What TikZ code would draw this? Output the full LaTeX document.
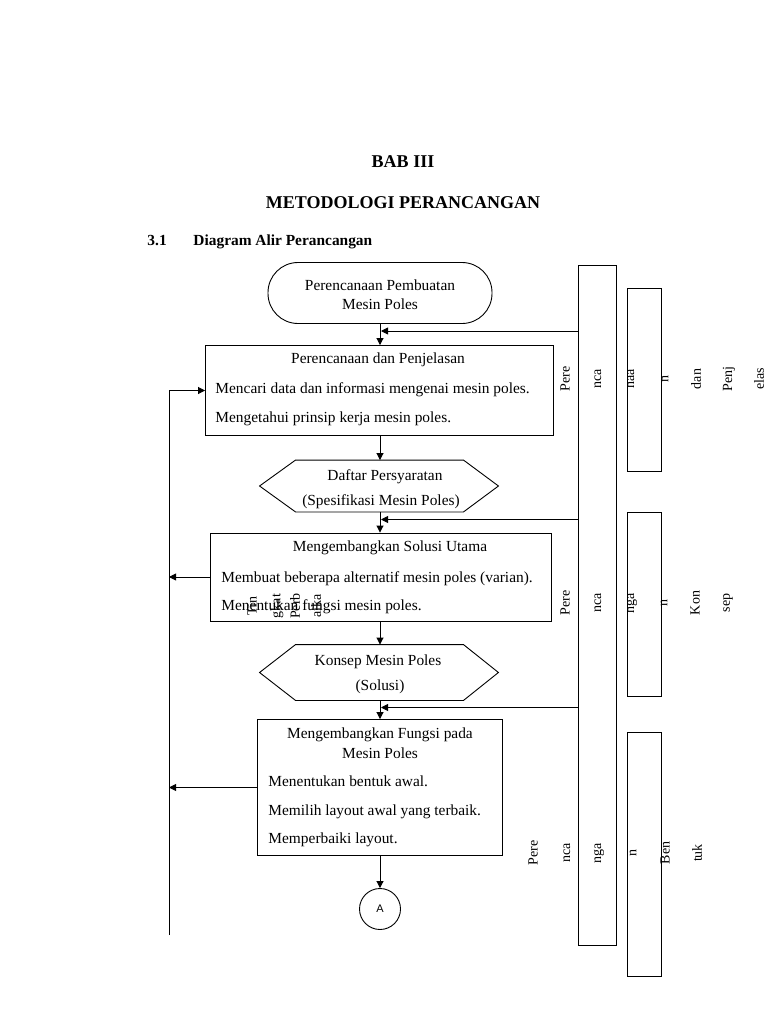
\documentclass[tikz,border=0pt]{standalone}
\usepackage{fontspec}
\setmainfont{Liberation Serif}
\newfontfamily\sansA{Liberation Sans}
\usetikzlibrary{arrows.meta,calc}
\begin{document}
\begin{tikzpicture}[x=1pt,y=-1pt,
  line width=0.9pt,
  arr/.style={-{Triangle[length=7pt,width=7pt]}},
  body/.style={font=\fontsize{15.4}{18}\selectfont, inner sep=0pt},
  boxstyle/.style={draw, rectangle, inner sep=0pt},
  rot/.style={font=\fontsize{14}{16}\selectfont, rotate=90, inner sep=0pt, anchor=center},
  hdr/.style={font=\fontsize{18}{22}\selectfont\bfseries, inner sep=0pt},
  sub/.style={font=\fontsize{15.4}{18}\selectfont\bfseries, inner sep=0pt},
]
\fill[white] (0,0) rectangle (768,1024);
\useasboundingbox (0,0) rectangle (768,1024);

% headings
\node[hdr, anchor=base] (bab) at (403,168) {BAB III};
\node[hdr, anchor=base] (metod) at (403,209) {METODOLOGI PERANCANGAN};
\node[sub, anchor=base west] (secnum) at (147,245) {3.1};
\node[sub, anchor=base west] (sectitle) at (193,245) {Diagram Alir Perancangan};

\coordinate (axis) at (380,0);

% terminal
\node[boxstyle, rounded corners=30pt, minimum width=224pt, minimum height=61pt] (start) at (380,293) {};
\node[body, anchor=base] (startA) at (380,290) {Perencanaan Pembuatan};
\node[body, anchor=base] (startB) at (380,309) {Mesin Poles};

% box 1
\node[boxstyle, minimum width=348pt, minimum height=90pt] (box1) at (379.5,390.5) {};
\node[body, anchor=base] (b1t) at (378,363) {Perencanaan dan Penjelasan};
\node[body, anchor=base west] (b1a) at (215,393) {Mencari data dan informasi mengenai mesin poles.};
\node[body, anchor=base west] (b1b) at (215,422) {Mengetahui prinsip kerja mesin poles.};

% hexagon 1
\node[minimum width=238pt, minimum height=51pt, inner sep=0pt] (hex1) at (379,486) {};
\draw (hex1.west) -- ([xshift=36pt]hex1.north west) -- ([xshift=-35pt]hex1.north east) -- (hex1.east)
      -- ([xshift=-35pt]hex1.south east) -- ([xshift=36pt]hex1.south west) -- cycle;
\node[body, anchor=base] (h1a) at (385,480) {Daftar Persyaratan};
\node[body, anchor=base] (h1b) at (381,505) {(Spesifikasi Mesin Poles)};

% box 2
\node[boxstyle, minimum width=341pt, minimum height=88pt] (box2) at (381,577) {};
\node[body, anchor=base] (b2t) at (390,551) {Mengembangkan Solusi Utama};
\node[body, anchor=base west] (b2a) at (221,582) {Membuat beberapa alternatif mesin poles (varian).};
\node[body, anchor=base west] (b2b) at (221,610) {Menentukan fungsi mesin poles.};
\node[rot] (tk1) at (252,606) {Tin};
\node[rot] (tk2) at (277,606) {gkat};
\node[rot] (tk3) at (295,606) {Perb};
\node[rot] (tk4) at (316,606) {aika};

% hexagon 2
\node[minimum width=238pt, minimum height=55pt, inner sep=0pt] (hex2) at (379,672.5) {};
\draw (hex2.west) -- ([xshift=36pt]hex2.north west) -- ([xshift=-35pt]hex2.north east) -- (hex2.east)
      -- ([xshift=-35pt]hex2.south east) -- ([xshift=36pt]hex2.south west) -- cycle;
\node[body, anchor=base] (h2a) at (378,665) {Konsep Mesin Poles};
\node[body, anchor=base] (h2b) at (380,690) {(Solusi)};

% box 3
\node[boxstyle, minimum width=245pt, minimum height=136pt] (box3) at (380,787.5) {};
\node[body, anchor=base] (b3t) at (380,738) {Mengembangkan Fungsi pada};
\node[body, anchor=base] (b3u) at (380,758) {Mesin Poles};
\node[body, anchor=base west] (b3a) at (268,786) {Menentukan bentuk awal.};
\node[body, anchor=base west] (b3b) at (268,815) {Memilih layout awal yang terbaik.};
\node[body, anchor=base west] (b3c) at (268,843) {Memperbaiki layout.};

% connector A
\node[draw, circle, minimum size=41pt, inner sep=0pt, font=\sansA\fontsize{11}{13}\selectfont] (conA) at (380,909) {A};

% main arrows
\draw[arr] (axis |- start.south) -- (axis |- box1.north);
\draw[arr] (axis |- box1.south) -- (axis |- hex1.north);
\draw[arr] (axis |- hex1.south) -- (axis |- box2.north);
\draw[arr] (axis |- box2.south) -- (axis |- hex2.north);
\draw[arr] (axis |- hex2.south) -- (axis |- box3.north);
\draw[arr] (axis |- box3.south) -- (axis |- conA.north);

% right rectangles
\node[boxstyle, minimum width=38pt, minimum height=680pt] (bigrect) at (597,605.8) {};
\node[boxstyle, minimum width=34pt, minimum height=183pt] (rectA) at (644,379.5) {};
\node[boxstyle, minimum width=34pt, minimum height=184pt] (rectB) at (644,604) {};
\node[boxstyle, minimum width=34pt, minimum height=244pt] (rectC) at (644,854) {};

% feedback arrows
\coordinate (fb1) at (381,331);
\coordinate (fb2) at (381,519.5);
\coordinate (fb3) at (381,707.5);
\draw[arr] (fb1 -| bigrect.west) -- (fb1);
\draw[arr] (fb2 -| bigrect.west) -- (fb2);
\draw[arr] (fb3 -| bigrect.west) -- (fb3);

% left loop
\coordinate (loopbot) at (169,935);
\draw[arr] (loopbot) |- (box1.west);
\draw[arr] (box2.west) -- (box2.west -| loopbot);
\draw[arr] (box3.west) -- (box3.west -| loopbot);

% rotated fragments group 1
\node[rot] (g1a) at (565,379) {Pere};
\node[rot] (g1b) at (598,379) {nca};
\node[rot] (g1c) at (631,379) {naa};
\node[rot] (g1d) at (665,379) {n};
\node[rot] (g1e) at (696,379) {dan};
\node[rot] (g1f) at (729,379) {Penj};
\node[rot] (g1g) at (759,379) {elas};
% group 2
\node[rot] (g2a) at (565,603) {Pere};
\node[rot] (g2b) at (598,603) {nca};
\node[rot] (g2c) at (632,603) {nga};
\node[rot] (g2d) at (664,603) {n};
\node[rot] (g2e) at (695,603) {Kon};
\node[rot] (g2f) at (728,603) {sep};
% group 3
\node[rot] (g3a) at (533,853) {Pere};
\node[rot] (g3b) at (567,853) {nca};
\node[rot] (g3c) at (599,853) {nga};
\node[rot] (g3d) at (633,853) {n};
\node[rot] (g3e) at (665,853) {Ben};
\node[rot] (g3f) at (697,853) {tuk};
\end{tikzpicture}
\end{document}
